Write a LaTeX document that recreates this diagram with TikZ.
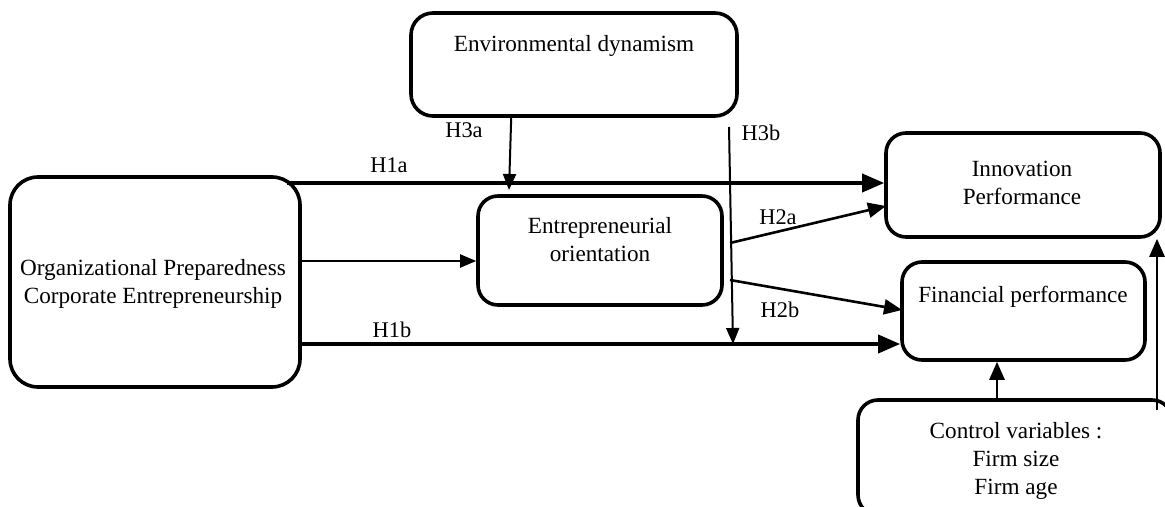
\documentclass[tikz,border=0pt]{standalone}
\usepackage{fontspec}
\setmainfont{Liberation Serif}
\usetikzlibrary{arrows.meta,calc}
\begin{document}
\begin{tikzpicture}[x=0.5pt,y=-0.5pt,
  box/.style={draw,line width=1.8pt,rounded corners=10pt,inner sep=0pt},
  txt/.style={font=\fontsize{11.6pt}{14pt}\selectfont,align=center,inner sep=0pt},
  lbl/.style={font=\fontsize{11.2pt}{14pt}\selectfont,inner sep=0pt},
  thickarr/.style={line width=1.8pt,-{Triangle[length=11pt,width=9pt]}},
  thinarr/.style={line width=1pt,-{Triangle[length=8pt,width=6.5pt]}},
  midarr/.style={line width=1.3pt,-{Triangle[length=9pt,width=7.5pt]}}]
\useasboundingbox (0,0) rectangle (1165,507);
\clip (0,0) rectangle (1165,507);
% boxes
\node[box,rounded corners=11pt,minimum width=163pt,minimum height=51.5pt] (env) at (574,64.5) {};
\node[box,rounded corners=14pt,minimum width=145pt,minimum height=105pt] (org) at (155,282) {};
\node[box,minimum width=122pt,minimum height=54.5pt] (eo) at (600,250.5) {};
\node[box,minimum width=137pt,minimum height=52pt] (inno) at (1023,185) {};
\node[box,minimum width=121.5pt,minimum height=49pt] (fin) at (1023.5,311) {};
\node[box,minimum width=157pt,minimum height=57.5pt] (ctrl) at (1015,457.5) {};
% texts
\node[txt] (envt) at (574,46) {Environmental dynamism};
\node[txt] (orgt) at (153,284) {Organizational Preparedness\\Corporate Entrepreneurship};
\node[txt] (eot) at (600,240) {Entrepreneurial\\orientation};
\node[txt] (innot) at (1022,183) {Innovation\\Performance};
\node[txt] (fint) at (1023,297) {Financial performance};
\node[txt] (ctrlt) at (1016,461) {Control variables :\\Firm size\\Firm age};
% labels
\node[lbl] (lh1a) at (389,165) {H1a};
\node[lbl] (lh1b) at (392,330) {H1b};
\node[lbl] (lh3a) at (464,130) {H3a};
\node[lbl] (lh3b) at (761,133) {H3b};
\node[lbl] (lh2a) at (778,217) {H2a};
\node[lbl] (lh2b) at (780,310) {H2b};
% coordinates
\coordinate (h1a) at (287,183);
\coordinate (h1b) at (298,344);
\coordinate (oe) at (300,261);
\coordinate (h3ae) at (509,190);
\coordinate (h3bs) at (729,127);
\coordinate (h3be) at (733,344);
\coordinate (h2as) at (730,243);
\coordinate (h2ae) at (886,206);
\coordinate (h2bs) at (730,280);
\coordinate (h2be) at (902,310);
\coordinate (cf) at (997,400);
\coordinate (ci) at (1157,410);
% connectors
\draw[thickarr] (h1a) -- (h1a -| inno.west);
\draw[thickarr] (h1b) -- (h1b -| fin.west);
\draw[thinarr] (oe) -- (oe -| eo.west);
\draw[thinarr] ([xshift=51pt]env.south west) -- (h3ae);
\draw[thinarr] (h3bs) -- (h3be);
\draw[midarr] (h2as) -- (h2ae);
\draw[midarr] (h2bs) -- (h2be);
\draw[midarr] (cf) -- (cf |- fin.south);
\draw[midarr] (ci) -- (ci |- inno.south);
\end{tikzpicture}
\end{document}
